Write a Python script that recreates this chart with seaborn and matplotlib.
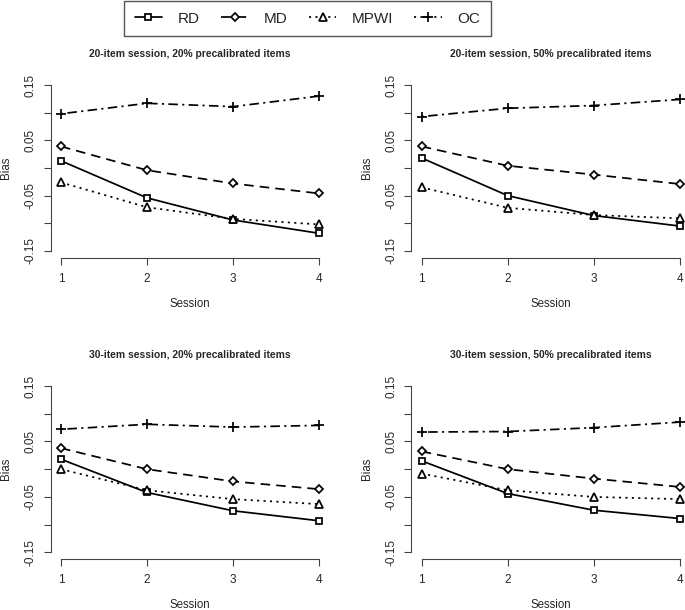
import matplotlib
matplotlib.use("Agg")
import pandas as pd
import matplotlib.pyplot as plt
import seaborn as sns

sessions = [1, 2, 3, 4]
methods = ["RD", "MD", "MPWI", "OC"]

titles = ["20-item session, 20% precalibrated items",
          "20-item session, 50% precalibrated items",
          "30-item session, 20% precalibrated items",
          "30-item session, 50% precalibrated items"]

# bias per method, sessions 1..4
bias_20_20 = {"RD":   [0.013, -0.054, -0.094, -0.118],
              "MD":   [0.039, -0.004, -0.028, -0.046],
              "MPWI": [-0.026, -0.071, -0.092, -0.102],
              "OC":   [0.098, 0.117, 0.111, 0.130]}
bias_20_50 = {"RD":   [0.018, -0.050, -0.086, -0.105],
              "MD":   [0.039, 0.004, -0.012, -0.029],
              "MPWI": [-0.035, -0.072, -0.085, -0.091],
              "OC":   [0.093, 0.108, 0.113, 0.124]}
bias_30_20 = {"RD":   [0.018, -0.042, -0.075, -0.093],
              "MD":   [0.038, 0.000, -0.022, -0.036],
              "MPWI": [0.000, -0.038, -0.054, -0.063],
              "OC":   [0.072, 0.081, 0.076, 0.079]}
bias_30_50 = {"RD":   [0.015, -0.044, -0.074, -0.089],
              "MD":   [0.032, 0.000, -0.017, -0.032],
              "MPWI": [-0.008, -0.038, -0.050, -0.054],
              "OC":   [0.067, 0.068, 0.075, 0.085]}
panels = [bias_20_20, bias_20_50, bias_30_20, bias_30_50]

ytick_vals = [-0.15, -0.10, -0.05, 0.0, 0.05, 0.10, 0.15]
ytick_text = ["-0.15", "", "-0.05", "", "0.05", "", "0.15"]

sns.set_theme(style="white")
plt.rcParams['font.family'] = ['Liberation Sans', 'DejaVu Sans']

W, H = 685, 610
fig = plt.figure(figsize=(W / 100, H / 100), dpi=100)

# axes boxes in pixels: left, top, right, bottom
boxes = [(50.7, 78.4, 329.3, 257.6),
         (411.4, 78.4, 690.3, 257.6),
         (50.7, 379.4, 329.3, 559.0),
         (411.4, 379.4, 690.3, 559.0)]

markers = {"RD": "s", "MD": "D", "MPWI": "^"}
dashes = {"RD": "", "MD": (5.5, 3.5), "MPWI": (1.2, 2.5)}
marker_sizes = {"RD": 5, "MD": 4.3, "MPWI": 5.6, "OC": 7}
line_kw = dict(color="black", lw=1.25, mfc="white", mec="black", mew=1.25,
               errorbar=None, legend=False)

axes = []
for i, panel in enumerate(panels):
    l, t, r, b = boxes[i]
    ax = fig.add_axes([l / W, 1 - b / H, (r - l) / W, (b - t) / H])
    axes.append(ax)

    df = pd.DataFrame([(s, m, panel[m][k]) for m in methods
                       for k, s in enumerate(sessions)],
                      columns=["session", "method", "bias"])

    sns.lineplot(data=df[df.method != "OC"], x="session", y="bias",
                 style="method", style_order=["RD", "MD", "MPWI"],
                 markers=markers, dashes=dashes, ax=ax, **line_kw)
    sns.lineplot(data=df[df.method == "OC"], x="session", y="bias",
                 style="method", markers={"OC": "+"},
                 dashes={"OC": (1.2, 2.5, 5.5, 2.5)}, ax=ax, **line_kw)
    for line, m in zip(ax.get_lines(), methods):
        line.set_markersize(marker_sizes[m])

    ax.set_xlim(0.88, 4.12)
    ax.set_ylim(-0.162, 0.162)
    ax.set_xticks(sessions)
    ax.set_yticks(ytick_vals)
    ax.set_yticklabels(ytick_text, rotation=90, va="center")
    ax.tick_params(axis="both", length=5, width=0.8, color="#444444",
                   labelsize=8.5, direction="out", bottom=True, left=True)
    ax.tick_params(axis="x", pad=6)
    ax.tick_params(axis="y", pad=5)
    for side in ["top", "right"]:
        ax.spines[side].set_visible(False)
    for side in ["left", "bottom"]:
        ax.spines[side].set_color("#444444")
        ax.spines[side].set_linewidth(0.8)
    ax.spines["left"].set_bounds(-0.15, 0.15)
    ax.spines["bottom"].set_bounds(1, 4)

    ax.set_xlabel("Session", fontsize=8.3)
    ax.set_ylabel("Bias", fontsize=8.3)
    ax.xaxis.set_label_coords(0.5, -0.225)
    ax.yaxis.set_label_coords(-0.138, 0.5)
    ax.set_title(titles[i], fontsize=7.4, fontweight="bold", y=1.135,
                 va="center", pad=0)

handles = axes[0].get_lines()[:4]
leg = fig.legend(handles, methods, loc="upper left",
                 bbox_to_anchor=(124 / W, 1 - 1 / H), ncol=4, fontsize=11,
                 frameon=True, fancybox=False, edgecolor="#555555",
                 framealpha=1, handlelength=1.8, handletextpad=1.0,
                 columnspacing=1.4, borderpad=0.7, borderaxespad=0)
leg.get_frame().set_linewidth(1.0)

fig.savefig("out.png", dpi=100)
